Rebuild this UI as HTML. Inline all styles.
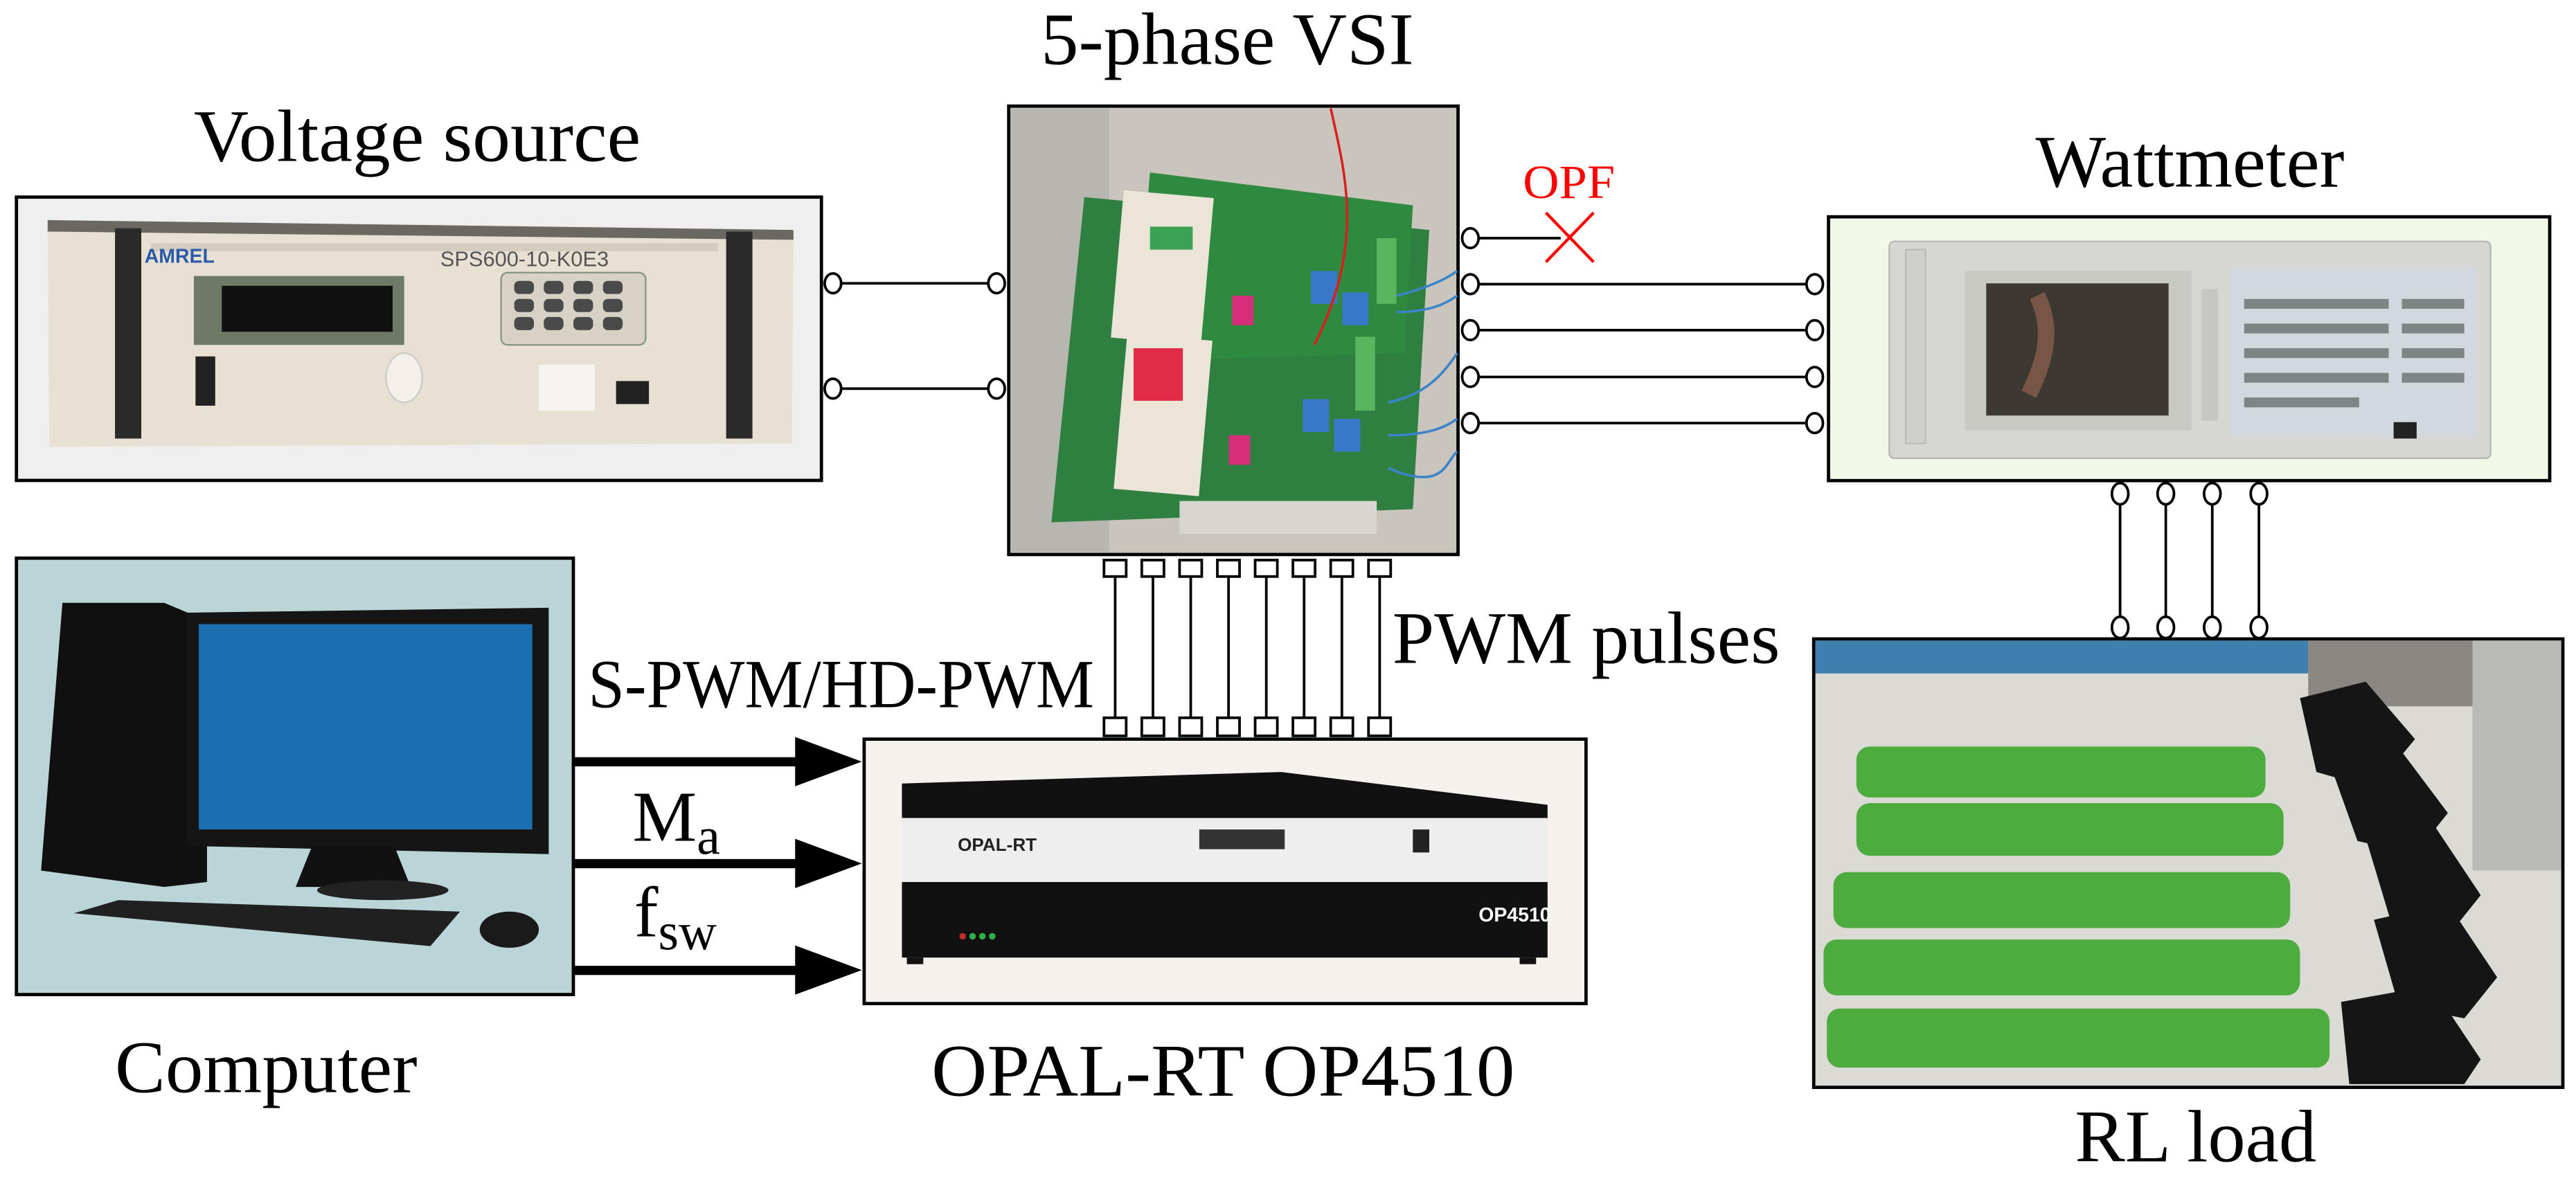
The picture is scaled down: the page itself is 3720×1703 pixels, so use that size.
<!DOCTYPE html>
<html><head><meta charset="utf-8"><style>
html,body{margin:0;padding:0;background:#fff;}
svg{display:block;}
text{font-family:"Liberation Serif",serif;fill:#000;}
</style></head><body>
<svg width="3720" height="1703" viewBox="0 0 1568 717.8" preserveAspectRatio="none" xmlns="http://www.w3.org/2000/svg">
<rect x="0" y="0" width="1568" height="717.8" fill="#fff"/>

<!-- Titles -->
<text x="633.6" y="39" font-size="45" textLength="227" lengthAdjust="spacingAndGlyphs">5-phase VSI</text>
<text x="118" y="98" font-size="45" textLength="272" lengthAdjust="spacingAndGlyphs">Voltage source</text>
<text x="1239" y="113.5" font-size="45" textLength="188" lengthAdjust="spacingAndGlyphs">Wattmeter</text>
<text x="927" y="120.6" font-size="29" fill="#ff0000" style="fill:#ff0000" textLength="56" lengthAdjust="spacingAndGlyphs">OPF</text>
<text x="70" y="665" font-size="45" textLength="184" lengthAdjust="spacingAndGlyphs">Computer</text>
<text x="567" y="667" font-size="45" textLength="355" lengthAdjust="spacingAndGlyphs">OPAL-RT OP4510</text>
<text x="1263" y="707" font-size="45" textLength="147" lengthAdjust="spacingAndGlyphs">RL load</text>
<text x="847.5" y="403.5" font-size="45" textLength="236" lengthAdjust="spacingAndGlyphs">PWM pulses</text>
<text x="358" y="430.5" font-size="42" textLength="308" lengthAdjust="spacingAndGlyphs">S-PWM/HD-PWM</text>
<text x="385" y="512" font-size="44">M<tspan font-size="32" dy="8">a</tspan></text>
<text x="386" y="570" font-size="44">f<tspan font-size="32" dy="8">sw</tspan></text>

<!-- Voltage source box -->
<rect x="10" y="120" width="490" height="172.5" fill="#efefef" stroke="#000" stroke-width="2"/>
<polygon points="29,134 360,138 483,140 482,270 30,272" fill="#e8e0d2"/>
<polygon points="29,134 483,140 483,146 29,141" fill="#6b6761"/>
<rect x="70" y="139" width="16" height="128" fill="#2a2a2a"/>
<rect x="442" y="141" width="16" height="126" fill="#2a2a2a"/>
<rect x="92" y="148" width="345" height="5" fill="#d4ccbe"/>
<text x="88" y="160" font-size="12" font-family="Liberation Sans" style="fill:#2a5aa8;font-family:'Liberation Sans',sans-serif;font-weight:bold">AMREL</text>
<text x="268" y="162" font-size="13" style="fill:#555;font-family:'Liberation Sans',sans-serif">SPS600-10-K0E3</text>
<rect x="118" y="168" width="128" height="42" fill="#6e7a66"/>
<rect x="135" y="174" width="104" height="28" fill="#111"/>
<rect x="305" y="166" width="88" height="44" rx="4" fill="#d8d2c6" stroke="#8a9684"/>
<g fill="#4a4a4a">
<rect x="313" y="171" width="12" height="8" rx="3"/><rect x="331" y="171" width="12" height="8" rx="3"/><rect x="349" y="171" width="12" height="8" rx="3"/><rect x="367" y="171" width="12" height="8" rx="3"/>
<rect x="313" y="182" width="12" height="8" rx="3"/><rect x="331" y="182" width="12" height="8" rx="3"/><rect x="349" y="182" width="12" height="8" rx="3"/><rect x="367" y="182" width="12" height="8" rx="3"/>
<rect x="313" y="193" width="12" height="8" rx="3"/><rect x="331" y="193" width="12" height="8" rx="3"/><rect x="349" y="193" width="12" height="8" rx="3"/><rect x="367" y="193" width="12" height="8" rx="3"/>
</g>
<rect x="119" y="217" width="12" height="30" fill="#222"/>
<ellipse cx="246" cy="230" rx="11" ry="15" fill="#f4f0e8" stroke="#ccc"/>
<rect x="328" y="222" width="34" height="28" fill="#f6f4f0"/>
<rect x="375" y="232" width="20" height="14" fill="#222"/>

<!-- 5-phase VSI box -->
<rect x="614" y="64.6" width="273.5" height="273" fill="#c9c4bc" stroke="#000" stroke-width="2"/>
<rect x="615" y="66" width="60" height="270" fill="#b8b6b0"/>
<polygon points="660,120 870,140 860,310 640,318" fill="#2f8040"/>
<polygon points="700,105 860,125 855,215 690,220" fill="#2e8a3e"/>
<rect x="680" y="118" width="55" height="90" fill="#ebe5d8" transform="rotate(5 707 163)"/>
<rect x="682" y="205" width="52" height="95" fill="#ebe5d8" transform="rotate(5 708 252)"/>
<rect x="690" y="212" width="30" height="32" fill="#e22b47"/>
<rect x="700" y="138" width="26" height="14" fill="#3aa155"/>
<rect x="838" y="145" width="12" height="40" fill="#5ab55f"/>
<rect x="825" y="205" width="12" height="45" fill="#5ab55f"/>
<rect x="798" y="165" width="16" height="20" fill="#3878c8"/>
<rect x="817" y="178" width="16" height="20" fill="#3878c8"/>
<rect x="793" y="243" width="16" height="20" fill="#3878c8"/>
<rect x="812" y="255" width="16" height="20" fill="#3878c8"/>
<rect x="750" y="180" width="13" height="18" fill="#d62e7a"/>
<rect x="748" y="265" width="13" height="18" fill="#d62e7a"/>
<path d="M810,66 C820,110 830,150 800,210" stroke="#d82020" stroke-width="1.5" fill="none"/>
<path d="M850,180 C870,175 880,170 887,165 M850,190 C870,190 880,185 887,180 M845,245 C870,240 880,225 887,215 M845,265 C870,265 880,260 887,255 M845,285 C880,300 880,280 887,275" stroke="#3a85c9" stroke-width="1.5" fill="none"/>
<rect x="718" y="305" width="120" height="20" fill="#d8d6d0"/>

<!-- Wattmeter box -->
<rect x="1113" y="132" width="439" height="160.6" fill="#f2f8e8" stroke="#000" stroke-width="2"/>
<rect x="1150" y="147" width="366" height="132" rx="3" fill="#d6d6d2" stroke="#b8b8b4"/>
<rect x="1160" y="152" width="12" height="118" fill="#cfcfcb" stroke="#bbb"/>
<rect x="1196" y="165" width="138" height="97" fill="#c9c9c4"/>
<rect x="1209" y="172.5" width="111" height="80.5" fill="#3d3832"/>
<path d="M1240,180 C1250,200 1245,220 1235,240" stroke="#a06a54" stroke-width="10" fill="none" opacity="0.6"/>
<rect x="1340" y="176" width="10" height="80" fill="#c6c6c2"/>
<rect x="1358" y="163" width="150" height="103" fill="#d2d9de"/>
<g fill="#7f8584">
<rect x="1366" y="182" width="88" height="6"/><rect x="1366" y="197" width="88" height="6"/><rect x="1366" y="212" width="88" height="6"/><rect x="1366" y="227" width="88" height="6"/><rect x="1366" y="242" width="70" height="6"/>
<rect x="1462" y="182" width="38" height="6"/><rect x="1462" y="197" width="38" height="6"/><rect x="1462" y="212" width="38" height="6"/><rect x="1462" y="227" width="38" height="6"/>
</g>
<rect x="1457" y="257" width="14" height="10" fill="#222"/>

<!-- Computer box -->
<rect x="10" y="339.8" width="339" height="265.7" fill="#bad5d7" stroke="#000" stroke-width="2"/>
<polygon points="38,367 100,367 126,378 126,537 100,540 25,530" fill="#101010"/>
<polygon points="114,373 334,370 334,520 114,515" fill="#151515"/>
<rect x="121" y="380" width="203" height="125" fill="#1b6fb0"/>
<polygon points="190,515 240,515 250,540 180,540" fill="#111"/>
<ellipse cx="233" cy="542" rx="40" ry="6" fill="#222"/>
<polygon points="72,548 280,555 262,576 45,556" fill="#202020"/>
<ellipse cx="310" cy="566" rx="18" ry="11" fill="#1a1a1a"/>

<!-- OPAL box -->
<rect x="526" y="450" width="439.4" height="161" fill="#f5f2ee" stroke="#000" stroke-width="2"/>
<polygon points="549,477 780,470 942,490 942,500 549,500" fill="#111"/>
<rect x="549" y="498" width="393" height="40" fill="#eeeeee"/>
<rect x="549" y="537" width="393" height="46" fill="#111"/>
<rect x="552" y="583" width="10" height="4" fill="#111"/>
<rect x="925" y="583" width="10" height="4" fill="#111"/>
<text x="583" y="518" font-size="11" style="fill:#222;font-family:'Liberation Sans',sans-serif;font-weight:bold">OPAL-RT</text>
<rect x="730" y="505" width="52" height="12" fill="#333"/>
<rect x="860" y="505" width="10" height="14" fill="#222"/>
<text x="900" y="561" font-size="12" style="fill:#fff;font-family:'Liberation Sans',sans-serif;font-weight:bold">OP4510</text>
<circle cx="592" cy="570" r="2" fill="#2fb04a"/><circle cx="598" cy="570" r="2" fill="#2fb04a"/><circle cx="604" cy="570" r="2" fill="#2fb04a"/><circle cx="586" cy="570" r="2" fill="#c0302a"/>

<!-- RL load box -->
<rect x="1104" y="389" width="456" height="273" fill="#dcdad5" stroke="#000" stroke-width="2"/>
<rect x="1105" y="390" width="300" height="20" fill="#3f7fb0"/>
<rect x="1405" y="390" width="100" height="40" fill="#8a8682"/>
<rect x="1505" y="390" width="54" height="140" fill="#b9b9b5"/>
<g fill="#4cac3e">
<rect x="1130" y="454.5" width="249" height="31" rx="8"/>
<rect x="1130" y="489" width="260" height="32" rx="8"/>
<rect x="1116" y="531" width="278" height="34" rx="8"/>
<rect x="1110" y="572" width="290" height="34" rx="8"/>
<rect x="1112" y="614" width="306" height="36" rx="8"/>
</g>
<g fill="#151515">
<polygon points="1400,425 1440,415 1470,450 1445,480 1410,470"/>
<polygon points="1420,470 1460,455 1490,495 1470,520 1435,512"/>
<polygon points="1440,510 1480,500 1510,545 1490,570 1455,560"/>
<polygon points="1445,560 1490,550 1520,595 1500,620 1460,612"/>
<polygon points="1425,610 1480,600 1510,645 1500,660 1430,660"/>
</g>

<!-- Connectors VS -> VSI -->
<g stroke="#000" stroke-width="1.6" fill="#fff">
<line x1="507" y1="172.5" x2="607" y2="172.5"/>
<line x1="507" y1="236.6" x2="607" y2="236.6"/>
<ellipse cx="507" cy="172.5" rx="5" ry="6"/><ellipse cx="606.6" cy="172.5" rx="5" ry="6"/>
<ellipse cx="507" cy="236.6" rx="5" ry="6"/><ellipse cx="606.6" cy="236.6" rx="5" ry="6"/>
</g>
<!-- VSI -> Wattmeter -->
<g stroke="#000" stroke-width="1.6" fill="#fff">
<line x1="895" y1="145" x2="950" y2="145"/>
<line x1="895" y1="173" x2="1105" y2="173"/>
<line x1="895" y1="201" x2="1105" y2="201"/>
<line x1="895" y1="229.5" x2="1105" y2="229.5"/>
<line x1="895" y1="257.6" x2="1105" y2="257.6"/>
<ellipse cx="895" cy="145" rx="5" ry="6"/>
<ellipse cx="895" cy="173" rx="5" ry="6"/><ellipse cx="1104.6" cy="173" rx="5" ry="6"/>
<ellipse cx="895" cy="201" rx="5" ry="6"/><ellipse cx="1104.6" cy="201" rx="5" ry="6"/>
<ellipse cx="895" cy="229.5" rx="5" ry="6"/><ellipse cx="1104.6" cy="229.5" rx="5" ry="6"/>
<ellipse cx="895" cy="257.6" rx="5" ry="6"/><ellipse cx="1104.6" cy="257.6" rx="5" ry="6"/>
</g>
<g stroke="#ff0000" stroke-width="1.8">
<line x1="941" y1="129.5" x2="970" y2="159.5"/>
<line x1="970" y1="129.5" x2="941" y2="159.5"/>
</g>
<!-- Wattmeter -> RL -->
<g stroke="#000" stroke-width="1.6" fill="#fff">
<line x1="1290.5" y1="300" x2="1290.5" y2="382"/>
<line x1="1318.3" y1="300" x2="1318.3" y2="382"/>
<line x1="1346.6" y1="300" x2="1346.6" y2="382"/>
<line x1="1375" y1="300" x2="1375" y2="382"/>
<ellipse cx="1290.5" cy="300.6" rx="5" ry="6.5"/><ellipse cx="1318.3" cy="300.6" rx="5" ry="6.5"/><ellipse cx="1346.6" cy="300.6" rx="5" ry="6.5"/><ellipse cx="1375" cy="300.6" rx="5" ry="6.5"/>
<ellipse cx="1290.5" cy="382" rx="5" ry="6.5"/><ellipse cx="1318.3" cy="382" rx="5" ry="6.5"/><ellipse cx="1346.6" cy="382" rx="5" ry="6.5"/><ellipse cx="1375" cy="382" rx="5" ry="6.5"/>
</g>
<!-- PWM lines -->
<g stroke="#000" stroke-width="1.6" fill="#fff">
<line x1="678.8" y1="351" x2="678.8" y2="437"/><line x1="701.8" y1="351" x2="701.8" y2="437"/>
<line x1="724.8" y1="351" x2="724.8" y2="437"/><line x1="747.8" y1="351" x2="747.8" y2="437"/>
<line x1="770.8" y1="351" x2="770.8" y2="437"/><line x1="793.8" y1="351" x2="793.8" y2="437"/>
<line x1="816.8" y1="351" x2="816.8" y2="437"/><line x1="839.8" y1="351" x2="839.8" y2="437"/>
<rect x="672" y="341" width="13.5" height="10"/><rect x="695" y="341" width="13.5" height="10"/>
<rect x="718" y="341" width="13.5" height="10"/><rect x="741" y="341" width="13.5" height="10"/>
<rect x="764" y="341" width="13.5" height="10"/><rect x="787" y="341" width="13.5" height="10"/>
<rect x="810" y="341" width="13.5" height="10"/><rect x="833" y="341" width="13.5" height="10"/>
<rect x="672" y="437" width="13.5" height="11"/><rect x="695" y="437" width="13.5" height="11"/>
<rect x="718" y="437" width="13.5" height="11"/><rect x="741" y="437" width="13.5" height="11"/>
<rect x="764" y="437" width="13.5" height="11"/><rect x="787" y="437" width="13.5" height="11"/>
<rect x="810" y="437" width="13.5" height="11"/><rect x="833" y="437" width="13.5" height="11"/>
</g>
<!-- Arrows -->
<g fill="#000">
<rect x="349" y="461" width="140" height="5.6"/>
<polygon points="484,448.7 524.6,463.7 484,478.7"/>
<rect x="349" y="523" width="140" height="5.6"/>
<polygon points="484,510.7 524.6,525.7 484,540.7"/>
<rect x="349" y="588" width="140" height="5.6"/>
<polygon points="484,575.6 524.6,590.6 484,605.6"/>
</g>
</svg>
</body></html>
